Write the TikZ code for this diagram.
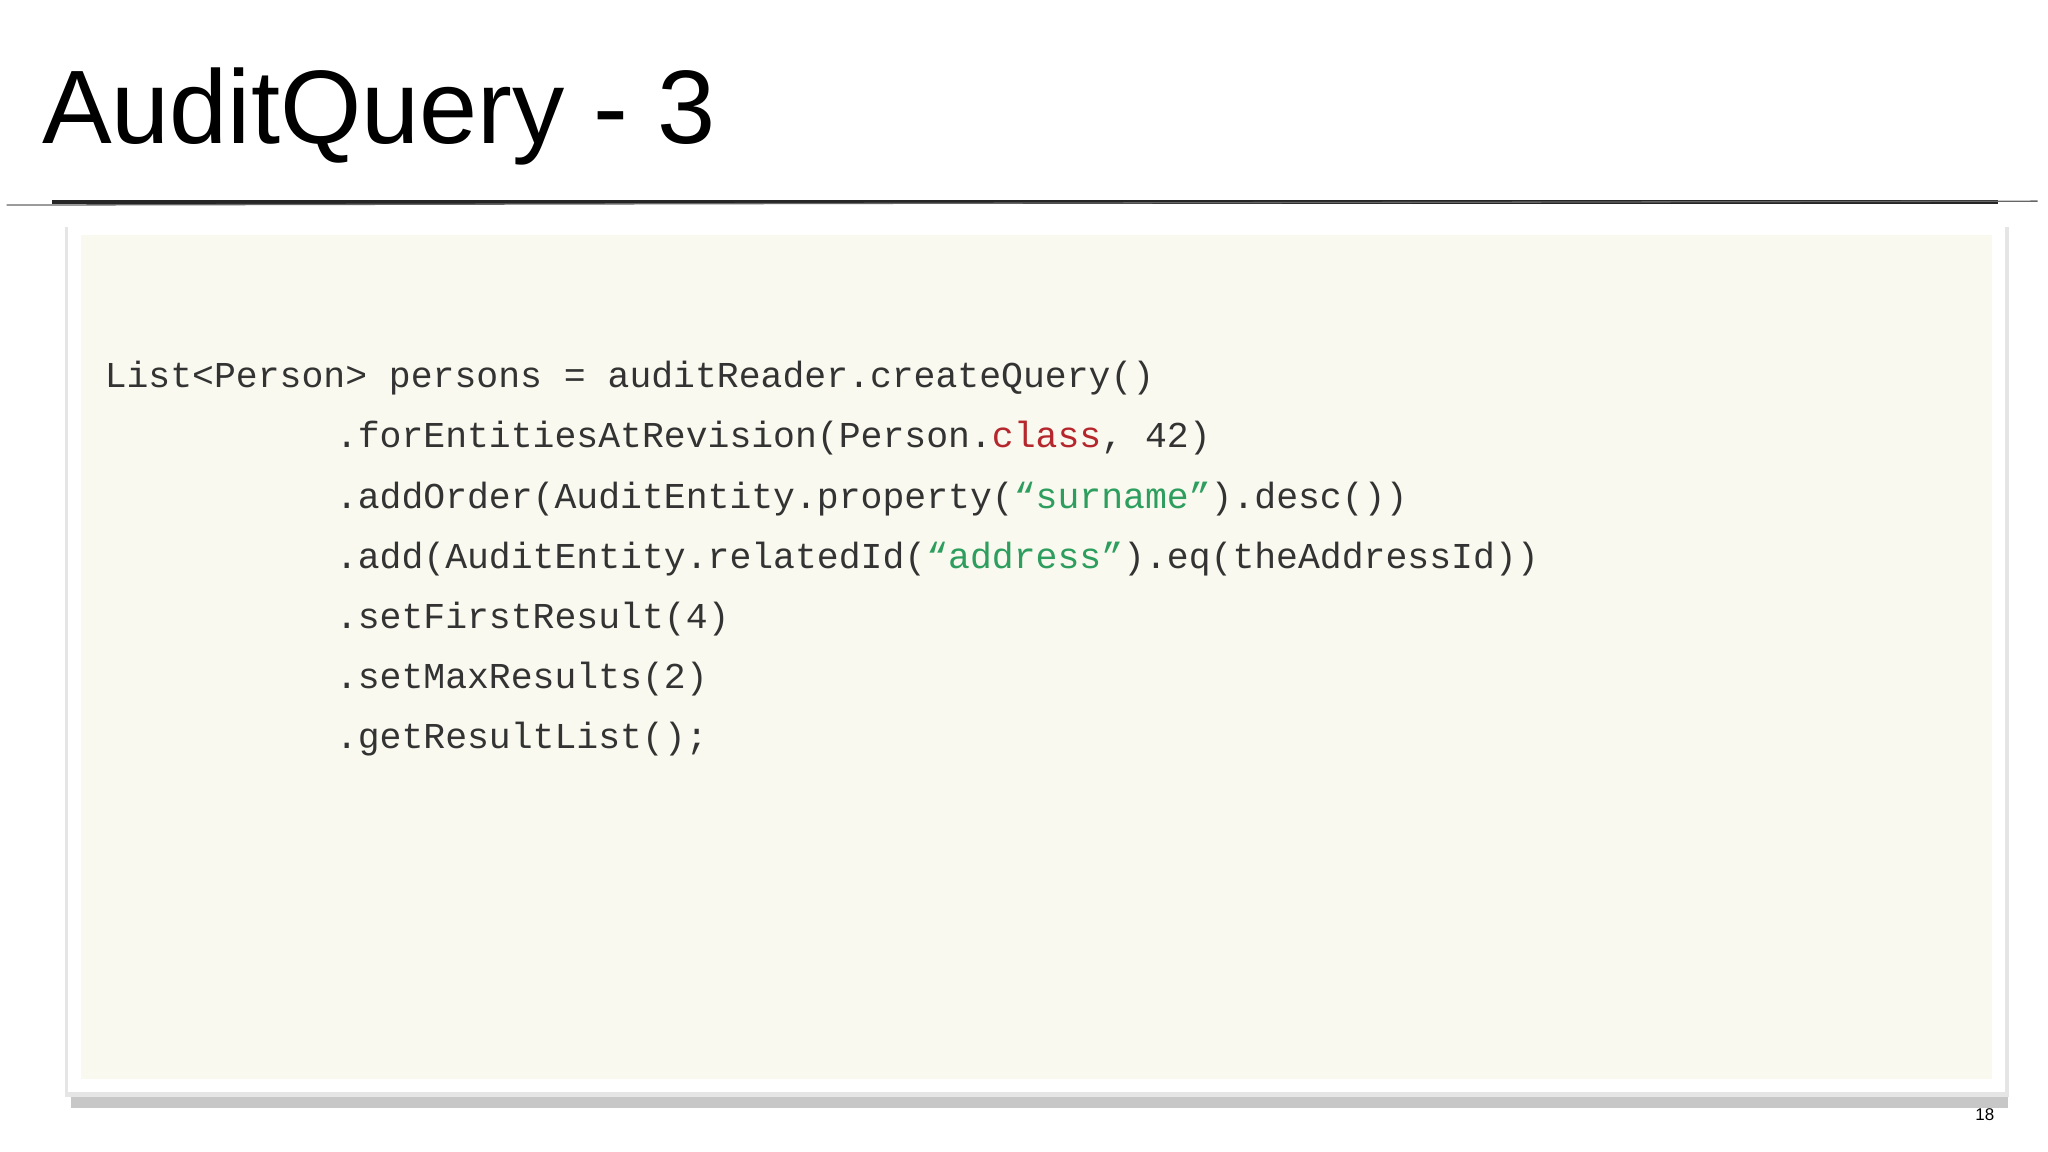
\documentclass[tikz,border=0pt]{standalone}
\usepackage{fontspec}
\setmainfont{Liberation Sans}
\setmonofont{Liberation Mono}
\definecolor{cream}{HTML}{F9F9EF}
\definecolor{kw}{HTML}{B5272D}
\definecolor{str}{HTML}{2E9E5E}
\definecolor{codec}{HTML}{333333}
\begin{document}
\begin{tikzpicture}[x=1pt,y=-1pt,
  code/.style={anchor=base west,inner sep=0,font=\fontsize{27.9}{30}\selectfont\ttfamily,text=codec}]
\useasboundingbox (0,0) rectangle (1568,882);
\fill[white] (0,0) rectangle (1568,882);
\node[anchor=base west,inner sep=0,font=\fontsize{80}{86}\selectfont] (title) at (32,110) {AuditQuery - 3};
\draw[line width=3pt,black!85] (40,155) -- (1530,155);
\draw[line width=1pt,black!60] (5,157) -- (1560,154);
% panel shadow
\fill[black!22] (54,836) rectangle (1537,848);
\fill[black!10] (50,174) rectangle (1538,840);
\fill[white] (52,172) rectangle (1535,836);
\node[fill=cream,minimum width=1463pt,minimum height=646pt,inner sep=0,anchor=north west] (panel) at (62,180) {};
\node[code] (l1) at (80,297) {List<Person> persons = auditReader.createQuery()};
\node[code] (l2) at (257,343) {.forEntitiesAtRevision(Person.\textcolor{kw}{class}, 42)};
\node[code] (l3) at (257,389) {.addOrder(AuditEntity.property(\textcolor{str}{“surname”}).desc())};
\node[code] (l4) at (257,435) {.add(AuditEntity.relatedId(\textcolor{str}{“address”}).eq(theAddressId))};
\node[code] (l5) at (257,481) {.setFirstResult(4)};
\node[code] (l6) at (257,527) {.setMaxResults(2)};
\node[code] (l7) at (257,573) {.getResultList();};
\node[anchor=base east,inner sep=0,font=\fontsize{13}{14}\selectfont] (pg) at (1527,858) {18};
\end{tikzpicture}
\end{document}
